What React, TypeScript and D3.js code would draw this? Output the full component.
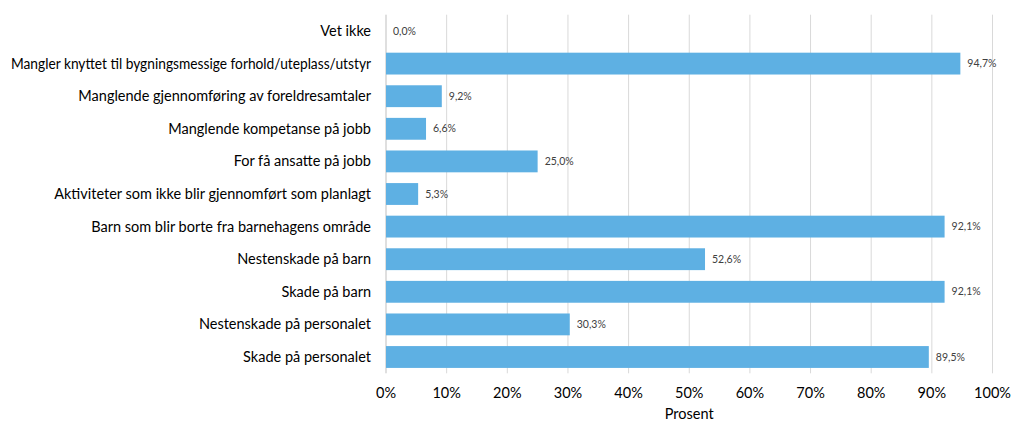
import React from "react";
import * as d3 from "d3";

const categories = [
  "Vet ikke",
  "Mangler knyttet til bygningsmessige forhold/uteplass/utstyr",
  "Manglende gjennomføring av foreldresamtaler",
  "Manglende kompetanse på jobb",
  "For få ansatte på jobb",
  "Aktiviteter som ikke blir gjennomført som planlagt",
  "Barn som blir borte fra barnehagens område",
  "Nestenskade på barn",
  "Skade på barn",
  "Nestenskade på personalet",
  "Skade på personalet",
];
const values = [0.0, 94.7, 9.2, 6.6, 25.0, 5.3, 92.1, 52.6, 92.1, 30.3, 89.5];
const ticks = [0, 10, 20, 30, 40, 50, 60, 70, 80, 90, 100];
const axisTitle = "Prosent";

const W = 1024;
const H = 440;
const left = 386;
const right = 992.5;
const top = 14.7;
const bottom = 373.3;
const font = "Lato, 'Open Sans', sans-serif";

export default function App() {
  const x = d3.scaleLinear().domain([0, 100]).range([left, right]);
  const y = d3
    .scaleBand<string>()
    .domain(categories)
    .range([top, bottom])
    .paddingInner(0.33)
    .paddingOuter(0.165);
  const fmt = (v: number) => v.toFixed(1).replace(".", ",") + "%";
  return (
    <svg
      width={W}
      height={H}
      style={{ position: "absolute", left: 0, top: 0, background: "#fff" }}
    >
      {ticks.map((t) => (
        <line
          key={t}
          x1={x(t)}
          x2={x(t)}
          y1={top}
          y2={bottom}
          stroke={t === 0 ? "#bfbfbf" : "#d9d9d9"}
          strokeWidth={1}
        />
      ))}
      {categories.map((c, i) => (
        <g key={c}>
          <rect
            x={x(0)}
            y={y(c)!}
            width={x(values[i]) - x(0)}
            height={y.bandwidth()}
            fill="#5eb0e3"
          />
          <text
            x={x(values[i]) + 7}
            y={y(c)! + y.bandwidth() / 2}
            dy="0.35em"
            fontSize={10.5}
            fontFamily={font}
            fill="#404040"
          >
            {fmt(values[i])}
          </text>
          <text
            x={371}
            y={y(c)! + y.bandwidth() / 2}
            dy="0.35em"
            textAnchor="end"
            fontSize={14.5}
            fontFamily={font}
            fill="#000"
            textLength={i === 1 ? 360 : undefined}
            lengthAdjust="spacingAndGlyphs"
          >
            {c}
          </text>
        </g>
      ))}
      {ticks.map((t) => (
        <text
          key={"t" + t}
          x={x(t)}
          y={393}
          dy="0.35em"
          textAnchor="middle"
          fontSize={14.5}
          fontFamily={font}
          fill="#000"
        >
          {t + "%"}
        </text>
      ))}
      <text
        x={(left + right) / 2}
        y={414}
        dy="0.35em"
        textAnchor="middle"
        fontSize={14.5}
        fontFamily={font}
        fill="#000"
      >
        {axisTitle}
      </text>
    </svg>
  );
}
